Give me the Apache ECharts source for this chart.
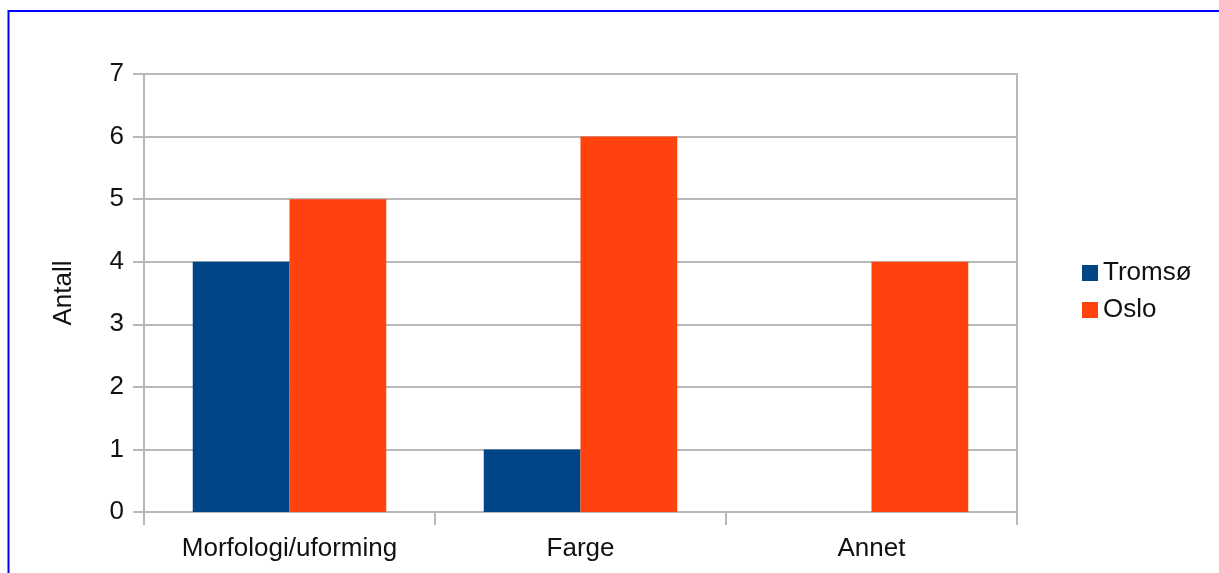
<!DOCTYPE html>
<html>
<head>
<meta charset="utf-8">
<script src="https://cdn.jsdelivr.net/npm/echarts@6/dist/echarts.min.js"></script>
<style>
html,body{margin:0;padding:0;background:#fff;}
#c{width:1219px;height:573px;}
</style>
</head>
<body>
<div id="c"></div>
<script>
const categories = ['Morfologi/uforming', 'Farge', 'Annet'];
const tromso = [4, 1, 0];
const oslo = [5, 6, 4];
const seriesNames = ['Tromsø', 'Oslo'];
const yTicks = { min: 0, max: 7, interval: 1 };

const chart = echarts.init(document.getElementById('c'), null, { renderer: 'canvas' });
const font = 'Liberation Sans, Arial, sans-serif';
const grey = '#b8b8b8';
chart.setOption({
  animation: false,
  backgroundColor: '#ffffff',
  graphic: [{
    type: 'rect',
    shape: { x: 8.5, y: 11, width: 1400, height: 800 },
    style: { fill: 'none', stroke: '#0000ff', lineWidth: 2 },
    silent: true
  }],
  grid: {
    left: 144, top: 74, right: 202, bottom: 61,
    show: true, borderColor: grey, borderWidth: 2, backgroundColor: 'transparent'
  },
  legend: {
    orient: 'vertical',
    left: 1077, top: 255,
    itemWidth: 16, itemHeight: 16, itemGap: 11,
    icon: 'rect',
    textStyle: { fontFamily: font, fontSize: 26, color: '#111' },
    data: seriesNames
  },
  xAxis: {
    type: 'category',
    data: categories,
    axisLine: { show: true, lineStyle: { color: grey, width: 2 } },
    axisTick: { show: true, length: 13, alignWithLabel: false, lineStyle: { color: grey, width: 2 } },
    axisLabel: { fontFamily: font, fontSize: 26, color: '#111', margin: 24 },
    splitLine: { show: false }
  },
  yAxis: {
    type: 'value',
    min: yTicks.min, max: yTicks.max, interval: yTicks.interval,
    name: 'Antall',
    nameLocation: 'middle',
    nameGap: 67,
    nameRotate: 90,
    nameTextStyle: { fontFamily: font, fontSize: 26, color: '#111' },
    axisLine: { show: true, lineStyle: { color: grey, width: 2 } },
    axisTick: { show: true, length: 11, lineStyle: { color: grey, width: 2 } },
    axisLabel: { fontFamily: font, fontSize: 26, color: '#111', margin: 20 },
    splitLine: { show: true, lineStyle: { color: grey, width: 2 } }
  },
  series: [
    { name: seriesNames[0], type: 'bar', data: tromso, itemStyle: { color: '#004586' }, barGap: '0%', barCategoryGap: '33.5%' },
    { name: seriesNames[1], type: 'bar', data: oslo, itemStyle: { color: '#ff420e' }, barGap: '0%', barCategoryGap: '33.5%' }
  ]
});
</script>
</body>
</html>
